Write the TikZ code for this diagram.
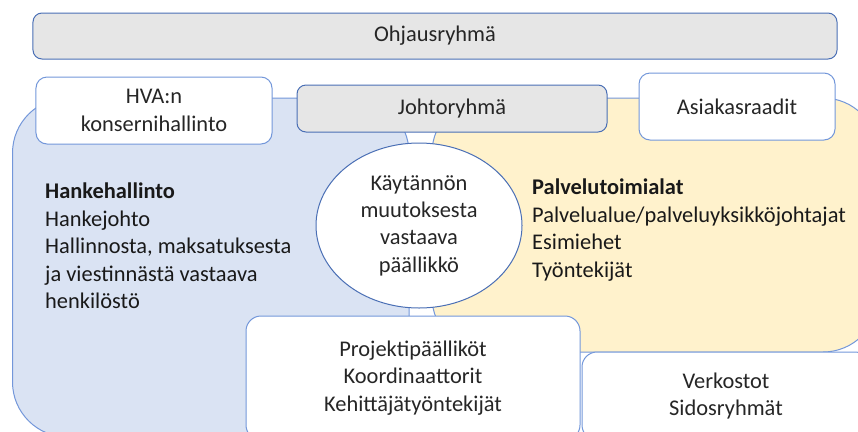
\documentclass[tikz,border=0pt]{standalone}
\usepackage{fontspec}
\setmainfont{Carlito}
\usetikzlibrary{shapes.geometric}
\definecolor{bluefill}{HTML}{DAE3F3}
\definecolor{yellowfill}{HTML}{FFF2CC}
\definecolor{grayfill}{HTML}{E6E6E6}
\definecolor{darkline}{HTML}{4A6FB5}
\definecolor{lightline}{HTML}{7397DA}
\tikzset{
  region/.style={draw=lightline, line width=1bp, rounded corners=55bp},
  graybox/.style={draw=darkline, fill=grayfill, line width=1bp, rounded corners=9bp, inner sep=0pt, align=center, font=\fontsize{22.5}{27.5}\selectfont, text=black!85},
  whitebox/.style={draw=lightline, fill=white, line width=1bp, rounded corners=11bp, inner sep=0pt, align=center, font=\fontsize{22.5}{27.5}\selectfont, text=black!85},
  listtext/.style={inner sep=0pt, align=left, font=\fontsize{22.5}{27.5}\selectfont, text=black!90},
}
\begin{document}
\begin{tikzpicture}[x=1bp, y=-1bp]
\useasboundingbox (0,0) rectangle (858,431);
\clip (0,0) rectangle (858,431);
% regions
\path[region, fill=bluefill] (12.5,98) rectangle (409,437);
\path[region, fill=yellowfill] (432,98) rectangle (878,352);
% boxes
\node[graybox, minimum width=804bp, minimum height=46bp] (ohj) at (435,36) {Ohjausryhmä};
\node[whitebox, minimum width=236bp, minimum height=67bp] (hva) at (154,110.5) {HVA:n\\konsernihallinto};
\node[graybox, minimum width=310bp, minimum height=47bp] (joh) at (452,108.5) {Johtoryhmä};
\node[whitebox, minimum width=196bp, minimum height=67bp] (asi) at (737,106.5) {Asiakasraadit};
\node[ellipse, draw=darkline, fill=white, line width=1bp, minimum width=206bp, minimum height=165bp, inner sep=0pt, align=center, font=\fontsize{22.5}{27.5}\selectfont, text=black!85] (kay) at (419,225.5) {Käytännön\\muutoksesta\\vastaava\\päällikkö};
\node[whitebox, rounded corners=15bp, minimum width=334bp, minimum height=124bp] (pro) at (413,378) {Projektipäälliköt\\Koordinaattorit\\Kehittäjätyöntekijät};
\node[whitebox, rounded corners=15bp, minimum width=288bp, minimum height=88bp] (ver) at (726,396) {Verkostot\\Sidosryhmät};
% lists
\node[listtext, anchor=west] (hank) at (45,246) {\textbf{Hankehallinto}\\Hankejohto\\Hallinnosta, maksatuksesta\\ja viestinnästä vastaava\\henkilöstö};
\node[listtext, anchor=west] (palv) at (532,230) {\textbf{Palvelutoimialat}\\Palvelualue/palveluyksikköjohtajat\\Esimiehet\\Työntekijät};
\end{tikzpicture}
\end{document}
